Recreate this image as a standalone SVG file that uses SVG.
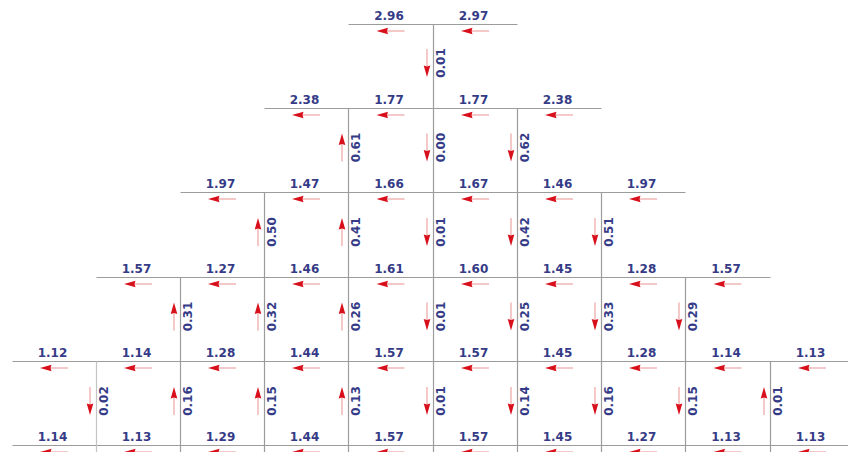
<svg xmlns="http://www.w3.org/2000/svg" xmlns:xlink="http://www.w3.org/1999/xlink" width="848" height="452" viewBox="0 0 848 452">
<style>
.g{stroke:#9c9c9c;stroke-width:1.2;fill:none}
.t{font-family:"DejaVu Sans",Verdana,sans-serif;font-weight:bold;font-size:12px;fill:#353b86;text-anchor:middle}
.tail{stroke:#eea4a4;stroke-width:1.2}
.head{fill:#d8101c}
</style>
<defs>
<g id="al"><line class="tail" x1="-4" y1="0" x2="14" y2="0"/><path class="head" d="M-14,0 L-2.5,-3.3 L-3.5,0 L-2.5,3.3 Z"/></g>
</defs>
<rect width="848" height="452" fill="#ffffff"/>
<g id="connectors">
<path class="g" d="M348.5,24.5H517.5M264.5,108.5H601.5M180.5,192.5H685.5M96.5,277.5H770.5M12.5,361.5H848M12.5,445.5H848"/>
<path class="g" d="M433.5,24.5V452M348.5,108.5V452M517.5,108.5V452M264.5,192.5V452M601.5,192.5V452M180.5,277.5V452M685.5,277.5V452M770.5,361.5V452"/>
<path d="M96.5,361.5V452" stroke="#c4c4c4" stroke-width="1.2"/>
</g>
<g id="level0">
<text class="t" x="389" y="19.5">2.96</text><text class="t" x="473.5" y="19.5">2.97</text>
<use xlink:href="#al" x="390.5" y="31"/><use xlink:href="#al" x="475" y="31"/>
</g>
<g id="level1">
<text class="t" x="304.5" y="103.5">2.38</text><text class="t" x="389" y="103.5">1.77</text><text class="t" x="473.5" y="103.5">1.77</text><text class="t" x="557.5" y="103.5">2.38</text>
<use xlink:href="#al" x="306" y="115"/><use xlink:href="#al" x="390.5" y="115"/><use xlink:href="#al" x="475" y="115"/><use xlink:href="#al" x="559" y="115"/>
</g>
<g id="level2">
<text class="t" x="220.5" y="187.5">1.97</text><text class="t" x="304.5" y="187.5">1.47</text><text class="t" x="389" y="187.5">1.66</text><text class="t" x="473.5" y="187.5">1.67</text><text class="t" x="557.5" y="187.5">1.46</text><text class="t" x="641.5" y="187.5">1.97</text>
<use xlink:href="#al" x="222" y="199"/><use xlink:href="#al" x="306" y="199"/><use xlink:href="#al" x="390.5" y="199"/><use xlink:href="#al" x="475" y="199"/><use xlink:href="#al" x="559" y="199"/><use xlink:href="#al" x="643" y="199"/>
</g>
<g id="level3">
<text class="t" x="136.5" y="272.5">1.57</text><text class="t" x="220.5" y="272.5">1.27</text><text class="t" x="304.5" y="272.5">1.46</text><text class="t" x="389" y="272.5">1.61</text><text class="t" x="473.5" y="272.5">1.60</text><text class="t" x="557.5" y="272.5">1.45</text><text class="t" x="641.5" y="272.5">1.28</text><text class="t" x="726" y="272.5">1.57</text>
<use xlink:href="#al" x="138" y="284"/><use xlink:href="#al" x="222" y="284"/><use xlink:href="#al" x="306" y="284"/><use xlink:href="#al" x="390.5" y="284"/><use xlink:href="#al" x="475" y="284"/><use xlink:href="#al" x="559" y="284"/><use xlink:href="#al" x="643" y="284"/><use xlink:href="#al" x="727.5" y="284"/>
</g>
<g id="level4">
<text class="t" x="52.5" y="356.5">1.12</text><text class="t" x="136.5" y="356.5">1.14</text><text class="t" x="220.5" y="356.5">1.28</text><text class="t" x="304.5" y="356.5">1.44</text><text class="t" x="389" y="356.5">1.57</text><text class="t" x="473.5" y="356.5">1.57</text><text class="t" x="557.5" y="356.5">1.45</text><text class="t" x="641.5" y="356.5">1.28</text><text class="t" x="726" y="356.5">1.14</text><text class="t" x="810.5" y="356.5">1.13</text>
<use xlink:href="#al" x="54" y="368"/><use xlink:href="#al" x="138" y="368"/><use xlink:href="#al" x="222" y="368"/><use xlink:href="#al" x="306" y="368"/><use xlink:href="#al" x="390.5" y="368"/><use xlink:href="#al" x="475" y="368"/><use xlink:href="#al" x="559" y="368"/><use xlink:href="#al" x="643" y="368"/><use xlink:href="#al" x="727.5" y="368"/><use xlink:href="#al" x="812" y="368"/>
</g>
<g id="level5">
<text class="t" x="52.5" y="440.5">1.14</text><text class="t" x="136.5" y="440.5">1.13</text><text class="t" x="220.5" y="440.5">1.29</text><text class="t" x="304.5" y="440.5">1.44</text><text class="t" x="389" y="440.5">1.57</text><text class="t" x="473.5" y="440.5">1.57</text><text class="t" x="557.5" y="440.5">1.45</text><text class="t" x="641.5" y="440.5">1.27</text><text class="t" x="726" y="440.5">1.13</text><text class="t" x="810.5" y="440.5">1.13</text>
<use xlink:href="#al" x="54" y="452"/><use xlink:href="#al" x="138" y="452"/><use xlink:href="#al" x="222" y="452"/><use xlink:href="#al" x="306" y="452"/><use xlink:href="#al" x="390.5" y="452"/><use xlink:href="#al" x="475" y="452"/><use xlink:href="#al" x="559" y="452"/><use xlink:href="#al" x="643" y="452"/><use xlink:href="#al" x="727.5" y="452"/><use xlink:href="#al" x="812" y="452"/>
</g>
<g id="vflows01">
<use xlink:href="#al" transform="translate(427,63) rotate(-90)"/><text class="t" transform="translate(444.5,63) rotate(-90)">0.01</text>
</g>
<g id="vflows12">
<use xlink:href="#al" transform="translate(342,147.5) rotate(90)"/><text class="t" transform="translate(359.5,147.5) rotate(-90)">0.61</text>
<use xlink:href="#al" transform="translate(427,147.5) rotate(-90)"/><text class="t" transform="translate(444.5,147.5) rotate(-90)">0.00</text>
<use xlink:href="#al" transform="translate(511,147.5) rotate(-90)"/><text class="t" transform="translate(528.5,147.5) rotate(-90)">0.62</text>
</g>
<g id="vflows23">
<use xlink:href="#al" transform="translate(258,232) rotate(90)"/><text class="t" transform="translate(275.5,232) rotate(-90)">0.50</text>
<use xlink:href="#al" transform="translate(342,232) rotate(90)"/><text class="t" transform="translate(359.5,232) rotate(-90)">0.41</text>
<use xlink:href="#al" transform="translate(427,232) rotate(-90)"/><text class="t" transform="translate(444.5,232) rotate(-90)">0.01</text>
<use xlink:href="#al" transform="translate(511,232) rotate(-90)"/><text class="t" transform="translate(528.5,232) rotate(-90)">0.42</text>
<use xlink:href="#al" transform="translate(595,232) rotate(-90)"/><text class="t" transform="translate(612.5,232) rotate(-90)">0.51</text>
</g>
<g id="vflows34">
<use xlink:href="#al" transform="translate(174,316.5) rotate(90)"/><text class="t" transform="translate(191.5,316.5) rotate(-90)">0.31</text>
<use xlink:href="#al" transform="translate(258,316.5) rotate(90)"/><text class="t" transform="translate(275.5,316.5) rotate(-90)">0.32</text>
<use xlink:href="#al" transform="translate(342,316.5) rotate(90)"/><text class="t" transform="translate(359.5,316.5) rotate(-90)">0.26</text>
<use xlink:href="#al" transform="translate(427,316.5) rotate(-90)"/><text class="t" transform="translate(444.5,316.5) rotate(-90)">0.01</text>
<use xlink:href="#al" transform="translate(511,316.5) rotate(-90)"/><text class="t" transform="translate(528.5,316.5) rotate(-90)">0.25</text>
<use xlink:href="#al" transform="translate(595,316.5) rotate(-90)"/><text class="t" transform="translate(612.5,316.5) rotate(-90)">0.33</text>
<use xlink:href="#al" transform="translate(679,316.5) rotate(-90)"/><text class="t" transform="translate(696.5,316.5) rotate(-90)">0.29</text>
</g>
<g id="vflows45">
<use xlink:href="#al" transform="translate(90,401) rotate(-90)"/><text class="t" transform="translate(107.5,401) rotate(-90)">0.02</text>
<use xlink:href="#al" transform="translate(174,401) rotate(90)"/><text class="t" transform="translate(191.5,401) rotate(-90)">0.16</text>
<use xlink:href="#al" transform="translate(258,401) rotate(90)"/><text class="t" transform="translate(275.5,401) rotate(-90)">0.15</text>
<use xlink:href="#al" transform="translate(342,401) rotate(90)"/><text class="t" transform="translate(359.5,401) rotate(-90)">0.13</text>
<use xlink:href="#al" transform="translate(427,401) rotate(-90)"/><text class="t" transform="translate(444.5,401) rotate(-90)">0.01</text>
<use xlink:href="#al" transform="translate(511,401) rotate(-90)"/><text class="t" transform="translate(528.5,401) rotate(-90)">0.14</text>
<use xlink:href="#al" transform="translate(595,401) rotate(-90)"/><text class="t" transform="translate(612.5,401) rotate(-90)">0.16</text>
<use xlink:href="#al" transform="translate(679,401) rotate(-90)"/><text class="t" transform="translate(696.5,401) rotate(-90)">0.15</text>
<use xlink:href="#al" transform="translate(764,401) rotate(90)"/><text class="t" transform="translate(781.5,401) rotate(-90)">0.01</text>
</g>
</svg>
